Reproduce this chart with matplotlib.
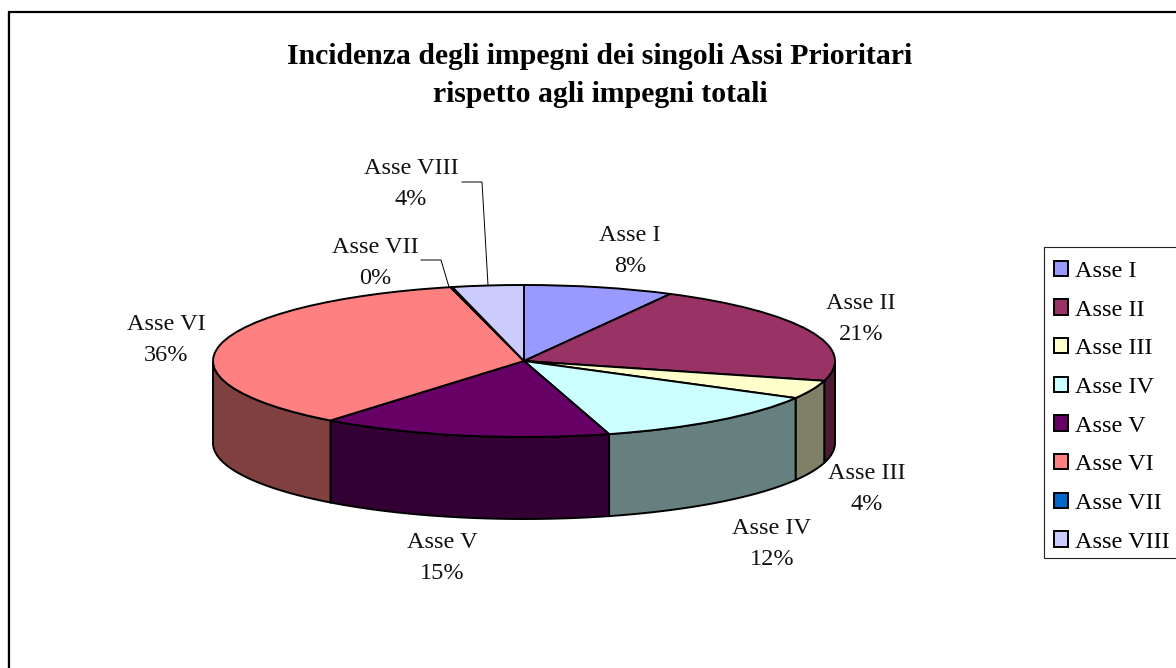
import numpy as np
import matplotlib
matplotlib.use("Agg")
import matplotlib.pyplot as plt
from matplotlib.patches import Wedge, Polygon, Patch, Rectangle
from matplotlib.transforms import Affine2D

plt.rcParams['font.family'] = ['Liberation Serif', 'DejaVu Serif']

assi = ["Asse I", "Asse II", "Asse III", "Asse IV", "Asse V", "Asse VI", "Asse VII", "Asse VIII"]
quote = [7.8, 21.4, 3.9, 12.49, 15.1, 35.51, 0.1, 3.7]
colori = ["#9999FF", "#993366", "#FFFFCC", "#CCFFFF", "#660066", "#FF8080", "#0066CC", "#CCCCFF"]
ombre = ["#4D4D80", "#4D1A33", "#808066", "#668080", "#330033", "#804040", "#003366", "#666680"]

# label centres in pixels
pos_x = [630, 861, 867, 772, 442, 166, 375, 411]
pos_y = [251, 319, 489, 544, 558, 340, 263, 184]

# pie geometry in pixels
cx, cy = 524, 361
rx, ry = 311, 76
depth = 82

fig = plt.figure(figsize=(11.76, 6.68), dpi=100)
ax = fig.add_axes([0, 0, 1, 1])
ax.set_xlim(0, 1176)
ax.set_ylim(668, 0)
ax.axis("off")

# chart frame, only left and top fall inside the picture
ax.plot([7.5, 7.5], [13, 668], color="#aaaaaa", lw=1.0)
ax.plot([9, 9, 1176], [668, 12, 12], color="black", lw=1.6, solid_joinstyle="miter")

ax.text(600, 57, "Incidenza degli impegni dei singoli Assi Prioritari", fontsize=21.4,
        fontweight="bold", ha="center", va="center")
ax.text(600, 95, "rispetto agli impegni totali", fontsize=21.4,
        fontweight="bold", ha="center", va="center")

# angles run clockwise from the top of the pie
fine = np.cumsum(quote) / sum(quote) * 360
inizio = np.concatenate([[0], fine[:-1]])

# side walls, only the front half (90-270 deg) can be seen
for a0, a1, c in zip(inizio, fine, ombre):
    lo, hi = max(a0, 90), min(a1, 270)
    if hi <= lo:
        continue
    t = np.radians(np.linspace(lo, hi, 80))
    xs = cx + rx * np.sin(t)
    ys = cy - ry * np.cos(t)
    pts = np.column_stack([np.r_[xs, xs[::-1]], np.r_[ys, ys[::-1] + depth]])
    ax.add_patch(Polygon(pts, closed=True, facecolor=c, edgecolor="black", lw=1.4, zorder=2))

# top of the pie, unit circle squashed to the ellipse
tr = Affine2D().scale(rx, -ry).translate(cx, cy) + ax.transData
for a0, a1, c in zip(inizio, fine, colori):
    ax.add_patch(Wedge((0, 0), 1, 90 - a1, 90 - a0, facecolor=c, edgecolor="black",
                       lw=1.4, transform=tr, zorder=3))

# leader lines
ax.plot([462, 482, 488], [182, 182, 285], color="black", lw=0.7, zorder=4)
ax.plot([421, 441, 449], [260, 260, 287], color="black", lw=0.7, zorder=4)

for nome, q, x, y in zip(assi, quote, pos_x, pos_y):
    ax.text(x, y, f"{nome}\n{q:.0f}%", fontsize=17.5, ha="center", va="center",
            multialignment="center", linespacing=1.66, color="#111111", zorder=5)

# legend box drawn apart, the padding in the original is not even
ax.add_patch(Rectangle((1044, 247), 140, 311, facecolor="white", edgecolor="#222222", lw=0.8, zorder=5))
handles = [Patch(facecolor=c, edgecolor="black", lw=1.4) for c in colori]
leg = ax.legend(handles, assi, loc="upper left", bbox_to_anchor=(1043 / 1176, 1 - 250 / 668),
                fontsize=17.5, frameon=False, borderaxespad=0, borderpad=0.44,
                labelspacing=0.715, handlelength=0.6, handleheight=0.6, handletextpad=0.29)
leg.set_zorder(6)

fig.savefig("out.png", dpi=100)
